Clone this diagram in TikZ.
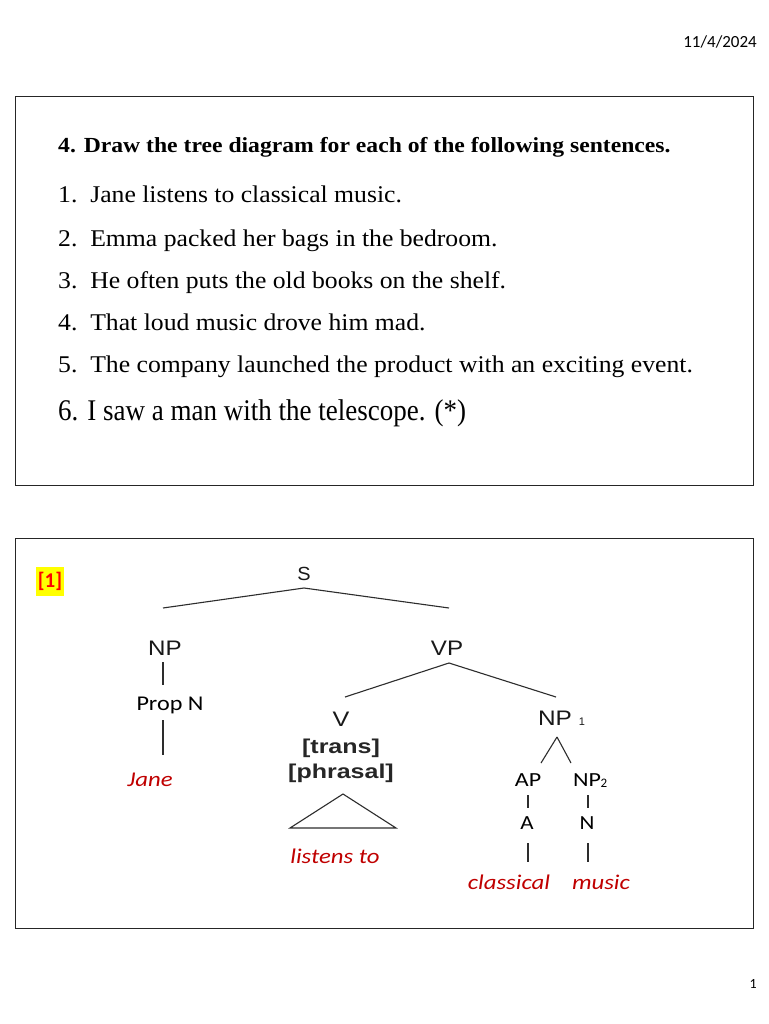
\documentclass[tikz,border=0pt]{standalone}
\usepackage{fontspec}
\setmainfont{Liberation Serif}
\newfontfamily\calfont{Carlito}
\newfontfamily\arifont{Liberation Sans}
\definecolor{dred}{RGB}{192,0,0}
\definecolor{hiyel}{RGB}{255,255,0}
\definecolor{linegray}{RGB}{45,45,45}
\newcommand\hsc[2]{\scalebox{#1}[1]{#2}}
\begin{document}
\begin{tikzpicture}[x=1pt,y=-1pt,
  every node/.style={inner sep=0pt},
  frame/.style={draw=black!85, line width=0.9pt},
  item/.style={anchor=base west, font=\fontsize{24}{24}\selectfont},
  arlab/.style={font=\arifont\fontsize{21}{21}\selectfont, text=black!90},
  arbold/.style={font=\arifont\bfseries\fontsize{20}{20}\selectfont, text=black!85},
  calab/.style={font=\calfont\fontsize{20}{20}\selectfont, text=black},
  word/.style={font=\calfont\itshape\fontsize{21}{21}\selectfont, text=dred},
  edge/.style={draw=linegray, line width=1.1pt}]
\useasboundingbox (0,0) rectangle (768,1024);
\fill[white] (0,0) rectangle (768,1024);
% header / footer
\node[anchor=base east, font=\calfont\fontsize{17}{17}\selectfont] (date) at (757,48) {11/4/2024};
\node[anchor=base east, font=\calfont\fontsize{14}{14}\selectfont] (pg) at (757,988) {1};
% top box
\draw[frame] (15,96) rectangle (753,485);
\node[anchor=base west, font=\bfseries\fontsize{21.5}{21.5}\selectfont] (head) at (58,153) {\hsc{1.1}{4. Draw the tree diagram for each of the following sentences.}};
\node[item] (i1) at (58,203) {\hsc{1.07}{1.\ \ Jane listens to classical music.}};
\node[item] (i2) at (58,246) {\hsc{1.07}{2.\ \ Emma packed her bags in the bedroom.}};
\node[item] (i3) at (58,288) {\hsc{1.07}{3.\ \ He often puts the old books on the shelf.}};
\node[item] (i4) at (58,330) {\hsc{1.07}{4.\ \ That loud music drove him mad.}};
\node[item] (i5) at (58,372) {\hsc{1.07}{5.\ \ The company launched the product with an exciting event.}};
\node[anchor=base west, font=\fontsize{30}{30}\selectfont] (i6) at (58,420) {\hsc{0.9}{6. I saw a man with the telescope. (*)}};
% bottom box
\draw[frame] (15,538) rectangle (753,928);
\node[fill=hiyel, text=red, font=\calfont\bfseries\fontsize{21}{21}\selectfont, minimum width=28pt, minimum height=29pt] (tag) at (50,581) {[1]};
% tree nodes
\node[arlab, font=\arifont\fontsize{19}{19}\selectfont] (S) at (304,574) {\hsc{1.05}{S}};
\node[arlab] (NP) at (165,648) {\hsc{1.15}{NP}};
\node[arlab] (VP) at (447,648) {\hsc{1.15}{VP}};
\node[calab, font=\calfont\fontsize{21}{21}\selectfont] (PropN) at (170,705) {\hsc{1.15}{Prop N}};
\node[word] (Jane) at (150,780) {\hsc{1.18}{Jane}};
\node[arlab] (V) at (341,719) {\hsc{1.2}{V}};
\node[arbold] (trans) at (341,748) {\hsc{1.25}{[trans]}};
\node[arbold] (phrasal) at (341,773) {\hsc{1.25}{[phrasal]}};
\node[arlab] (NP1) at (555,718) {\hsc{1.16}{NP}};
\node[arlab, font=\arifont\fontsize{11}{11}\selectfont] (NP1sub) at (582,722) {1};
\node[calab] (AP) at (528,780) {\hsc{1.2}{AP}};
\node[calab] (NP2) at (587,780) {\hsc{1.2}{NP}};
\node[calab, font=\calfont\fontsize{13}{13}\selectfont] (NP2sub) at (604,783) {2};
\node[calab] (A) at (527,823) {\hsc{1.15}{A}};
\node[calab] (N) at (587,823) {\hsc{1.15}{N}};
\node[word] (listens) at (335,856) {\hsc{1.18}{listens to}};
\node[word] (classical) at (509,882) {\hsc{1.18}{classical}};
\node[word] (music) at (601,882) {\hsc{1.18}{music}};
% edge end points
\coordinate (S-d) at (304,588);
\coordinate (NP-u) at (163,608);
\coordinate (VP-u) at (449,608);
\coordinate (NP-d) at (163,662);
\coordinate (PropN-u) at (163,685);
\coordinate (PropN-d) at (163,720);
\coordinate (Jane-u) at (163,755);
\coordinate (VP-d) at (449,663);
\coordinate (V-u) at (345,697);
\coordinate (NP1-u) at (556,697);
\coordinate (NP1-d) at (557,737);
\coordinate (AP-u) at (541,763);
\coordinate (NP2-u) at (571,763);
\coordinate (AP-d) at (528,795);
\coordinate (A-u) at (528,808);
\coordinate (NP2-d) at (588,795);
\coordinate (N-u) at (588,808);
\coordinate (A-d) at (528,843);
\coordinate (cl-u) at (528,862);
\coordinate (N-d) at (588,843);
\coordinate (mu-u) at (588,862);
\coordinate (tri-t) at (343,794);
\coordinate (tri-l) at (290,828);
\coordinate (tri-r) at (396,828);
\draw[edge] (S-d) -- (NP-u);
\draw[edge] (S-d) -- (VP-u);
\draw[edge] (NP-d) -- (PropN-u);
\draw[edge] (PropN-d) -- (Jane-u);
\draw[edge] (VP-d) -- (V-u);
\draw[edge] (VP-d) -- (NP1-u);
\draw[edge] (NP1-d) -- (AP-u);
\draw[edge] (NP1-d) -- (NP2-u);
\draw[edge] (AP-d) -- (A-u);
\draw[edge] (NP2-d) -- (N-u);
\draw[edge] (A-d) -- (cl-u);
\draw[edge] (N-d) -- (mu-u);
\draw[edge, line join=miter] (tri-l) -- (tri-t) -- (tri-r) -- cycle;
\end{tikzpicture}
\end{document}
